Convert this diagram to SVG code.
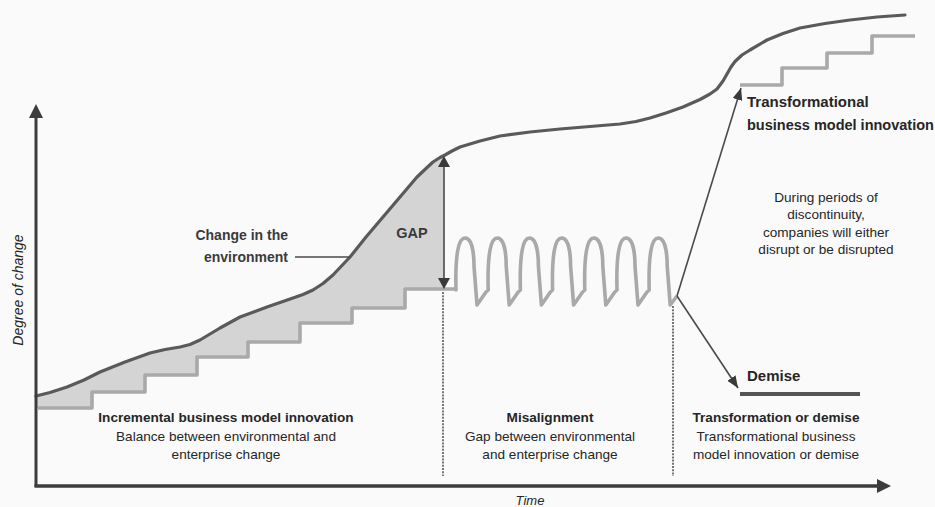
<svg xmlns="http://www.w3.org/2000/svg" width="935" height="507" viewBox="0 0 935 507">
<defs>
<style>
text{font-family:"Liberation Sans",Arial,sans-serif;fill:#262626}
.b{font-weight:bold;font-size:13.6px}
.r{font-size:13.6px}
.c{text-anchor:middle}
.big{font-size:15px;font-weight:bold}
.med{font-weight:bold;fill:#3a3a3a}
.env{fill:none;stroke:#5a5a5a;stroke-width:3.2;stroke-linejoin:round;stroke-linecap:round}
.step{fill:none;stroke:#a9a9a9;stroke-width:3.6;stroke-linejoin:round}
.dot{stroke:#555;stroke-width:1.6;stroke-dasharray:2 1.2}
.arr{stroke:#4a4a4a;stroke-width:1.6;fill:none}
</style>
<marker id="ah" viewBox="0 0 12 10" refX="12" refY="5" markerWidth="12" markerHeight="10" markerUnits="userSpaceOnUse" orient="auto">
<path d="M0,0 L12,5 L0,10 z" fill="#3a3a3a"/>
</marker>
</defs>
<rect width="935" height="507" fill="#fafafa"/>

<g id="gap-fill">
<path d="M36,396 L50,392.5 L67,387 L84,380 L100,372 L125,362 L150,353 L165,349.5 L180,347 L190,344.5 L200,340 L220,328 L240,317 L255,311.5 L267,307 L280,302.5 L293,298 L303,294.5 L313,290 L323,283.5 L333,275 L341,266.5 L350,257 L366,237 L383,217 L400,197 L417,177 L426,168.5 L433,162 L440,157.5 L444,155.5 L444,289 L405,289 L405,308 L352,308 L352,323 L300,323 L300,342 L248,342 L248,357 L197,357 L197,375 L145,375 L145,392 L92,392 L92,408 L36,408 z" fill="#d4d4d4"/>
</g>

<g id="enterprise-steps">
<path class="step" d="M38,408 H92 V392 H145 V375 H197 V357 H248 V342 H300 V323 H352 V308 H405 V289 H456 L456,290 C455,252 459,238 465,238 C471,238 474,250 474,266 L477,305 L486,292 L488.2,290 C487.2,252 491.2,238 497.2,238 C503.2,238 506.2,250 506.2,266 L509.2,305 L518.2,292 L520.4,290 C519.4,252 523.4,238 529.4,238 C535.4,238 538.4,250 538.4,266 L541.4,305 L550.4,292 L552.6,290 C551.6,252 555.6,238 561.6,238 C567.6,238 570.6,250 570.6,266 L573.6,305 L582.6,292 L584.8,290 C583.8,252 587.8,238 593.8,238 C599.8,238 602.8,250 602.8,266 L605.8,305 L614.8,292 L617,290 C616,252 620,238 626,238 C632,238 635,250 635,266 L638,305 L647,292 L649.2,290 C648.2,252 652.2,238 658.2,238 C664.2,238 667.2,250 667.2,266 L670.2,305 L677,296"/>
<path class="step" d="M740,85 H782 V68 H827 V53 H872 V36 H915"/>
</g>

<g id="environment-curve">
<path class="env" d="M36,396 L50,392.5 L67,387 L84,380 L100,372 L125,362 L150,353 L165,349.5 L180,347 L190,344.5 L200,340 L220,328 L240,317 L255,311.5 L267,307 L280,302.5 L293,298 L303,294.5 L313,290 L323,283.5 L333,275 L341,266.5 L350,257 L366,237 L383,217 L400,197 L417,177 L426,168.5 L433,162 L440,157.5 L445,155 L452,151 L460,147 L480,141 L500,136 L530,132 L560,129 L590,126.5 L620,124 L636,121.5 L650,118 L666,113 L683,107 L700,99.5 L710,94 L717,89 L723,81 L727,74 L731,67 L735,61.5 L742,55 L750,50 L767,40 L783,33.5 L800,28 L825,23.5 L850,20 L877,17 L905,15"/>
</g>

<g id="demise-line">
<line x1="740" y1="394" x2="860" y2="394" stroke="#555" stroke-width="4"/>
</g>

<g id="connectors">
<line class="arr" x1="444" y1="160" x2="444" y2="285"/>
<path d="M444,156 L438,167 L450,167 z" fill="#3a3a3a"/>
<path d="M444,289 L438,278 L450,278 z" fill="#3a3a3a"/>
<line class="arr" x1="295" y1="257" x2="350" y2="257" stroke-width="2"/>
<line class="arr" x1="677" y1="296" x2="741" y2="88" marker-end="url(#ah)"/>
<line class="arr" x1="677" y1="296" x2="738" y2="388" marker-end="url(#ah)"/>
<line class="dot" x1="443" y1="292" x2="443" y2="476"/>
<line class="dot" x1="673" y1="306" x2="673" y2="476"/>
</g>

<g id="axes">
<line x1="36" y1="112" x2="36" y2="487" stroke="#3c3c3c" stroke-width="3"/>
<path d="M36,104 L29,118 L43,118 z" fill="#3c3c3c"/>
<line x1="34.5" y1="486" x2="880" y2="486" stroke="#3c3c3c" stroke-width="3.5"/>
<path d="M891,486 L877,479 L877,493 z" fill="#3c3c3c"/>
<text x="530" y="505" class="c" font-size="13" font-style="italic">Time</text>
<text transform="translate(23,290) rotate(-90)" class="c" font-size="14" font-style="italic">Degree of change</text>
</g>

<g id="label-env">
<text x="288" y="240" font-size="14" text-anchor="end" class="med">Change in the</text>
<text x="288" y="262" font-size="14" text-anchor="end" class="med">environment</text>
</g>

<g id="label-gap">
<text x="412" y="238" font-size="14.5" class="c med">GAP</text>
</g>

<g id="label-transformational">
<text x="747" y="107" class="big">Transformational</text>
<text x="747" y="130" class="big" font-size="14.5" style="font-size:14.5px">business model innovation</text>
</g>

<g id="label-discontinuity">
<text x="826" y="202" class="r c">During periods of</text>
<text x="826" y="219" class="r c">discontinuity,</text>
<text x="826" y="237" class="r c">companies will either</text>
<text x="826" y="254" class="r c">disrupt or be disrupted</text>
</g>

<g id="label-demise">
<text x="747" y="381" class="big">Demise</text>
</g>

<g id="phase-incremental">
<text x="226" y="422" class="b c">Incremental business model innovation</text>
<text x="226" y="441" class="r c">Balance between environmental and</text>
<text x="226" y="459" class="r c">enterprise change</text>
</g>

<g id="phase-misalignment">
<text x="550" y="422" class="b c">Misalignment</text>
<text x="550" y="441" class="r c">Gap between environmental</text>
<text x="550" y="459" class="r c">and enterprise change</text>
</g>

<g id="phase-transformation">
<text x="776" y="422" class="b c">Transformation or demise</text>
<text x="776" y="441" class="r c">Transformational business</text>
<text x="776" y="459" class="r c">model innovation or demise</text>
</g>
</svg>
